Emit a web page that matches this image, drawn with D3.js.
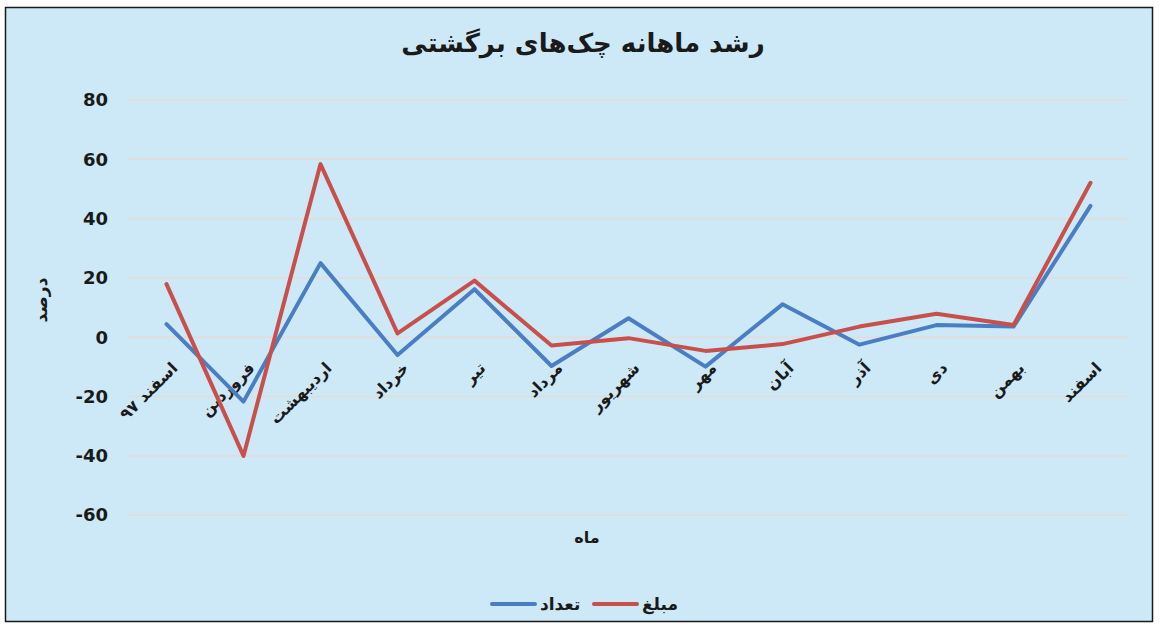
<!DOCTYPE html>
<html>
<head>
<meta charset="utf-8">
<script src="https://cdnjs.cloudflare.com/ajax/libs/d3/7.8.5/d3.min.js"></script>
<style>
  html, body { margin: 0; padding: 0; background: #fff; }
  svg text { font-family: "DejaVu Sans", "Liberation Sans", sans-serif; }
</style>
</head>
<body>
<script>
// months, Esfand 97 .. Esfand 98
var months = ['اسفند ۹۷', 'فروردین', 'اردیبهشت', 'خرداد', 'تیر', 'مرداد', 'شهریور',
  'مهر', 'آبان', 'آذر', 'دی', 'بهمن', 'اسفند'];

var countGrowth = [4.4, -21.7, 25, -6, 16.2, -9.7, 6.4, -9.9, 11.1, -2.5, 4.1, 3.6, 44.3];
var amountGrowth = [17.9, -40, 58.4, 1.3, 19.1, -2.8, -0.3, -4.6, -2.3, 3.6, 7.9, 4.1, 52.1];

var yTicks = [-60, -40, -20, 0, 20, 40, 60, 80];

var series = [
  {name: 'تعداد', values: countGrowth, color: '#4a7ec4'},
  {name: 'مبلغ', values: amountGrowth, color: '#c8504b'}
];

var W = 1160, H = 631;

var svg = d3.select('body').append('svg')
  .attr('width', W)
  .attr('height', H);

// chart frame
svg.append('rect')
  .attr('x', 5.5).attr('y', 7.5)
  .attr('width', 1147).attr('height', 614)
  .attr('fill', '#cde8f7')
  .attr('stroke', '#1a1a1a')
  .attr('stroke-width', 1.5);

var x = d3.scalePoint()
  .domain(months)
  .range([128, 1129])
  .padding(0.5);

var y = d3.scaleLinear()
  .domain([-60, 80])
  .range([515.2, 100]);

// gridlines
svg.append('g').selectAll('line')
  .data(yTicks)
  .enter().append('line')
  .attr('x1', 128).attr('x2', 1128)
  .attr('y1', function(d) { return y(d); })
  .attr('y2', function(d) { return y(d); })
  .attr('stroke', '#e4dcd8')
  .attr('stroke-width', 1.5);

// y axis labels
var yAxis = svg.append('g')
  .attr('transform', 'translate(108,0)')
  .call(d3.axisLeft(y).tickValues(yTicks).tickSize(0).tickPadding(0)
    .tickFormat(function(d) { return String(d); }));
yAxis.select('.domain').remove();
yAxis.selectAll('text')
  .attr('font-family', '"Open Sans", "Liberation Sans", sans-serif')
  .attr('font-size', 18)
  .attr('font-weight', 'bold')
  .attr('fill', '#1a1a1a');

// x axis labels (rotated)
svg.append('g').selectAll('text')
  .data(months)
  .enter().append('text')
  .attr('transform', function(d) { return 'translate(' + (x(d) + 3) + ',360) rotate(-45)'; })
  .attr('text-anchor', 'end')
  .attr('dy', '0.8em')
  .attr('font-size', 16)
  .attr('font-weight', 'bold')
  .attr('fill', '#1a1a1a')
  .text(function(d) { return d; });

// lines
var line = d3.line()
  .x(function(d, i) { return x(months[i]); })
  .y(function(d) { return y(d); });

svg.append('g').selectAll('path')
  .data(series)
  .enter().append('path')
  .attr('d', function(d) { return line(d.values); })
  .attr('fill', 'none')
  .attr('stroke', function(d) { return d.color; })
  .attr('stroke-width', 4)
  .attr('stroke-linejoin', 'round')
  .attr('stroke-linecap', 'round');

// titles
svg.append('text')
  .attr('x', 583).attr('y', 52)
  .attr('text-anchor', 'middle')
  .attr('font-size', 26)
  .attr('font-weight', 'bold')
  .attr('fill', '#1a1a1a')
  .text('رشد ماهانه چک‌های برگشتی');

svg.append('text')
  .attr('transform', 'translate(47,300) rotate(-90)')
  .attr('text-anchor', 'middle')
  .attr('font-size', 17)
  .attr('font-weight', 'bold')
  .attr('fill', '#1a1a1a')
  .text('درصد');

svg.append('text')
  .attr('x', 587).attr('y', 543)
  .attr('text-anchor', 'middle')
  .attr('font-size', 16)
  .attr('font-weight', 'bold')
  .attr('fill', '#1a1a1a')
  .text('ماه');

// legend
var legend = svg.append('g').selectAll('g')
  .data(series)
  .enter().append('g')
  .attr('transform', function(d, i) { return 'translate(' + (492 + i * 102) + ',604)'; });

legend.append('line')
  .attr('x1', 0).attr('x2', 43)
  .attr('stroke', function(d) { return d.color; })
  .attr('stroke-width', 4)
  .attr('stroke-linecap', 'round');

legend.append('text')
  .attr('x', 48).attr('y', 6)
  .attr('font-size', 17)
  .attr('font-weight', 'bold')
  .attr('fill', '#1a1a1a')
  .text(function(d) { return d.name; });
</script>
</body>
</html>
